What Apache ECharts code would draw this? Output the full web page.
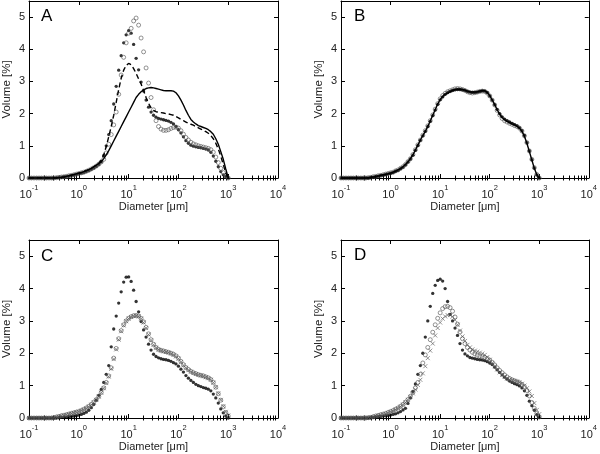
<!DOCTYPE html>
<html><head><meta charset="utf-8">
<script src="https://cdn.jsdelivr.net/npm/echarts@6/dist/echarts.min.js"></script>
<style>html,body{margin:0;padding:0;background:#fff}#c{width:600px;height:454px}</style>
</head><body><div id="c"></div>
<script>
// size classes (µm)
const diam = [
 0.1,0.112,0.126,0.142,0.159,0.178,0.2,0.224,0.252,0.283,
 0.317,0.356,0.399,0.448,0.502,0.564,0.632,0.71,0.796,0.893,
 1.002,1.125,1.262,1.416,1.589,1.783,2,2.244,2.518,2.825,
 3.17,3.557,3.991,4.477,5.024,5.637,6.325,7.096,7.962,8.934,
 10.024,11.247,12.619,14.159,15.887,17.825,20,22.44,25.179,28.251,
 31.698,35.566,39.905,44.774,50.238,56.368,63.246,70.963,79.621,89.337,
 100.237,112.468,126.191,141.589,158.866,178.25,200,224.404,251.785,282.508,
 316.979,355.656,399.052,447.744,502.377,563.677,632.456,709.627,796.214,893.367,
 1002.374];

const xDecades = [0.1, 1, 10, 100, 1000, 10000];
const xExponents = ['-1', '0', '1', '2', '3', '4'];
const yTicks = [0, 1, 2, 3, 4, 5];
const panelLetters = ['A', 'B', 'C', 'D'];

// Panel A
const A_solid = [
 0,0,0,0,0,0,0,0,0,0,
 0,0,0.01,0.02,0.03,0.05,0.07,0.09,0.11,0.13,
 0.15,0.17,0.2,0.23,0.26,0.3,0.35,0.4,0.45,0.5,
 0.6,0.72,0.85,1.0,1.15,1.3,1.45,1.6,1.75,1.9,
 2.05,2.2,2.35,2.5,2.6,2.68,2.74,2.78,2.8,2.81,
 2.8,2.78,2.76,2.74,2.72,2.71,2.71,2.71,2.7,2.65,
 2.55,2.42,2.27,2.1,1.95,1.82,1.74,1.68,1.63,1.6,
 1.57,1.54,1.5,1.44,1.36,1.22,1.05,0.82,0.58,0.28,
 0];
const A_dashed = [
 0,0,0,0,0,0,0,0,0,0,
 0,0,0.01,0.02,0.03,0.05,0.07,0.09,0.11,0.13,
 0.15,0.17,0.2,0.23,0.26,0.3,0.35,0.4,0.46,0.55,
 0.72,0.98,1.28,1.6,1.95,2.35,2.75,3.1,3.35,3.5,
 3.56,3.52,3.4,3.25,3.08,2.92,2.72,2.5,2.32,2.18,
 2.1,2.06,2.04,2.03,2.02,2.0,1.99,1.97,1.95,1.91,
 1.87,1.82,1.78,1.74,1.7,1.67,1.64,1.6,1.56,1.52,
 1.48,1.44,1.39,1.32,1.22,1.08,0.9,0.68,0.42,0.15,
 0];
const A_filled = [
 0,0,0,0,0,0,0,0,0,0,
 0,0.01,0.02,0.03,0.04,0.05,0.06,0.08,0.09,0.11,
 0.13,0.15,0.17,0.2,0.23,0.27,0.31,0.36,0.42,0.5,
 0.7,1.0,1.35,1.78,2.3,2.85,3.35,3.8,4.2,4.45,
 4.58,4.5,4.15,3.72,3.36,2.98,2.7,2.42,2.2,2.05,
 1.95,1.89,1.85,1.83,1.81,1.79,1.77,1.73,1.68,1.6,
 1.5,1.4,1.28,1.16,1.08,1.02,0.99,0.97,0.95,0.94,
 0.92,0.9,0.87,0.8,0.68,0.52,0.35,0.2,0.1,0.04,
 0];
const A_open = [
 0,0,0,0,0,0,0,0,0,0,
 0,0.01,0.02,0.03,0.04,0.05,0.07,0.08,0.1,0.12,
 0.14,0.16,0.18,0.21,0.24,0.28,0.32,0.37,0.43,0.5,
 0.58,0.78,1.05,1.35,1.65,2.05,2.6,3.2,3.75,4.2,
 4.5,4.65,4.88,4.97,4.75,4.35,3.92,3.42,2.95,2.5,
 2.12,1.78,1.6,1.52,1.48,1.48,1.5,1.54,1.57,1.58,
 1.55,1.47,1.36,1.26,1.18,1.11,1.06,1.03,1.0,0.98,
 0.96,0.94,0.92,0.88,0.8,0.65,0.48,0.3,0.17,0.07,
 0];

// Panel B
const B_solid = [
 0,0,0,0,0,0,0,0,0,0,
 0,0.01,0.02,0.03,0.05,0.06,0.08,0.1,0.11,0.13,
 0.15,0.18,0.21,0.25,0.29,0.35,0.42,0.5,0.6,0.72,
 0.87,1.02,1.18,1.32,1.45,1.6,1.77,1.95,2.12,2.3,
 2.44,2.53,2.6,2.64,2.68,2.72,2.75,2.76,2.76,2.75,
 2.73,2.7,2.68,2.67,2.67,2.68,2.7,2.72,2.71,2.66,
 2.56,2.43,2.28,2.12,1.98,1.88,1.81,1.76,1.72,1.68,
 1.65,1.61,1.55,1.45,1.3,1.08,0.82,0.56,0.3,0.1,
 0];
const B_open = [
 0,0,0,0,0,0,0,0,0,0,
 0,0.01,0.02,0.04,0.05,0.07,0.08,0.1,0.12,0.14,
 0.16,0.18,0.22,0.25,0.3,0.35,0.42,0.51,0.6,0.73,
 0.88,1.03,1.18,1.33,1.47,1.62,1.78,1.96,2.14,2.31,
 2.46,2.56,2.63,2.68,2.71,2.74,2.77,2.78,2.77,2.75,
 2.72,2.68,2.65,2.64,2.65,2.67,2.69,2.7,2.69,2.64,
 2.55,2.42,2.27,2.1,1.96,1.85,1.78,1.74,1.7,1.67,
 1.63,1.6,1.55,1.46,1.31,1.1,0.84,0.58,0.32,0.11,
 0];
const B_filled = [
 0,0,0,0,0,0,0,0,0,0,
 0,0,0.02,0.03,0.04,0.06,0.08,0.09,0.11,0.13,
 0.15,0.17,0.21,0.24,0.29,0.34,0.41,0.5,0.59,0.71,
 0.86,1.01,1.17,1.31,1.45,1.6,1.76,1.94,2.11,2.29,
 2.43,2.52,2.6,2.65,2.69,2.72,2.74,2.75,2.75,2.74,
 2.72,2.69,2.67,2.66,2.66,2.67,2.69,2.71,2.7,2.65,
 2.55,2.42,2.28,2.13,2.0,1.9,1.83,1.78,1.74,1.7,
 1.66,1.62,1.56,1.47,1.32,1.1,0.84,0.57,0.31,0.1,
 0];

// Panel C
const C_filled = [
 0,0,0,0,0,0,0,0,0,0,
 0,0,0.01,0.02,0.02,0.03,0.04,0.05,0.06,0.07,
 0.09,0.11,0.14,0.18,0.24,0.32,0.42,0.55,0.7,0.88,
 1.1,1.35,1.62,2.2,2.75,3.15,3.55,3.9,4.2,4.35,
 4.36,4.22,3.95,3.6,3.28,2.98,2.72,2.5,2.28,2.1,
 1.97,1.9,1.86,1.83,1.81,1.8,1.78,1.75,1.71,1.67,
 1.6,1.51,1.42,1.31,1.23,1.16,1.1,1.04,1.0,0.97,
 0.94,0.92,0.89,0.84,0.74,0.62,0.46,0.28,0.16,0.06,
 0];
const C_open = [
 0,0,0,0,0,0,0,0,0,0,
 0.01,0.03,0.05,0.07,0.08,0.1,0.12,0.14,0.16,0.18,
 0.2,0.23,0.27,0.31,0.36,0.42,0.49,0.57,0.67,0.79,
 0.93,1.1,1.3,1.55,1.85,2.15,2.45,2.7,2.88,3.0,
 3.08,3.13,3.16,3.17,3.15,3.08,2.97,2.8,2.6,2.42,
 2.28,2.18,2.12,2.09,2.07,2.05,2.03,2.0,1.97,1.92,
 1.85,1.75,1.65,1.56,1.5,1.44,1.4,1.37,1.34,1.32,
 1.3,1.27,1.24,1.19,1.1,0.95,0.75,0.55,0.35,0.17,
 0.06];
const C_cross = [
 0,0,0,0,0,0,0,0,0,0,
 0.01,0.02,0.04,0.06,0.08,0.1,0.12,0.14,0.16,0.18,
 0.2,0.23,0.26,0.3,0.35,0.41,0.48,0.56,0.66,0.78,
 0.92,1.08,1.28,1.52,1.82,2.12,2.42,2.68,2.86,2.99,
 3.07,3.12,3.15,3.16,3.14,3.07,2.95,2.78,2.58,2.4,
 2.26,2.17,2.11,2.08,2.06,2.04,2.02,1.99,1.95,1.9,
 1.83,1.73,1.63,1.55,1.48,1.43,1.39,1.36,1.33,1.31,
 1.29,1.26,1.23,1.18,1.09,0.95,0.76,0.56,0.36,0.19,
 0.08];

// Panel D
const D_filled = [
 0,0,0,0,0,0,0,0,0,0,
 0,0,0.01,0.02,0.03,0.04,0.05,0.06,0.07,0.08,
 0.09,0.11,0.13,0.16,0.2,0.25,0.3,0.45,0.62,0.82,
 1.05,1.35,1.62,2.0,2.5,3.0,3.45,3.85,4.1,4.25,
 4.29,4.23,4.0,3.6,3.2,3.0,2.78,2.55,2.3,2.1,
 1.98,1.92,1.87,1.85,1.83,1.81,1.8,1.79,1.77,1.74,
 1.7,1.65,1.57,1.49,1.41,1.33,1.26,1.2,1.14,1.1,
 1.06,1.03,0.99,0.93,0.84,0.7,0.52,0.38,0.24,0.1,
 0.02];
const D_open = [
 0,0,0,0,0,0,0,0,0,0,
 0,0.01,0.02,0.04,0.06,0.08,0.1,0.12,0.14,0.17,
 0.2,0.23,0.27,0.31,0.36,0.42,0.49,0.57,0.67,0.79,
 0.93,1.1,1.35,1.7,1.95,2.18,2.42,2.65,2.88,3.08,
 3.25,3.38,3.44,3.45,3.41,3.3,3.12,2.9,2.66,2.45,
 2.3,2.18,2.1,2.03,1.98,1.94,1.91,1.89,1.87,1.84,
 1.79,1.72,1.64,1.55,1.47,1.4,1.33,1.27,1.22,1.18,
 1.15,1.12,1.09,1.04,0.97,0.85,0.68,0.48,0.3,0.14,
 0.03];
const D_cross = [
 0,0,0,0,0,0,0,0,0,0,
 0,0.01,0.02,0.03,0.05,0.07,0.09,0.11,0.13,0.16,
 0.19,0.22,0.26,0.3,0.35,0.41,0.48,0.56,0.65,0.76,
 0.88,1.02,1.18,1.38,1.6,1.85,2.08,2.3,2.55,2.78,
 2.95,3.07,3.14,3.18,3.18,3.13,3.03,2.88,2.7,2.52,
 2.38,2.26,2.18,2.12,2.08,2.05,2.02,1.99,1.95,1.88,
 1.8,1.7,1.6,1.5,1.41,1.33,1.27,1.22,1.19,1.17,
 1.15,1.13,1.1,1.06,1.0,0.92,0.82,0.68,0.46,0.25,
 0.12];

const FONT = "'Liberation Sans', Arial, Helvetica, sans-serif";
const grids = [
  {left: 27, top: 1, width: 251, height: 177},
  {left: 341, top: 1, width: 249, height: 177},
  {left: 27, top: 240, width: 251, height: 178},
  {left: 341, top: 240, width: 250, height: 178}
];
const letterPos = [[41, 8], [354, 8], [41, 248], [354, 247]];

// minor tick positions (log10 space) 2..9 in each decade
const minorPos = [];
for (let k = -1; k < 4; k++) for (let m = 2; m <= 9; m++) minorPos.push(k + Math.log10(m));

const panelSeries = [
  [{kind: 'line', data: A_solid}, {kind: 'dash', data: A_dashed}, {kind: 'dot', data: A_filled}, {kind: 'circ', data: A_open}],
  [{kind: 'circ', data: B_open}, {kind: 'dot', data: B_filled}, {kind: 'line', data: B_solid}],
  [{kind: 'dot', data: C_filled}, {kind: 'circ', data: C_open}, {kind: 'cross', data: C_cross}],
  [{kind: 'dot', data: D_filled}, {kind: 'circ', data: D_open}, {kind: 'cross', data: D_cross}]
];

const axLine = {show: true, onZero: false, lineStyle: {color: '#000', width: 1}};
const xAxis = [], yAxis = [], series = [], graphic = [];
grids.forEach((g, p) => {
  const xi = xAxis.length;
  xAxis.push({
    gridIndex: p, type: 'log', logBase: 10, min: 0.1, max: 10000, position: 'bottom',
    axisLine: axLine, axisTick: {show: true, inside: true, length: 4, lineStyle: {color: '#000'}},
    splitLine: {show: false}, minorTick: {show: false},
    axisLabel: {
      margin: 6,
      formatter: v => {
        let i = xDecades.findIndex(d => Math.abs(Math.log10(d) - Math.log10(v)) < 1e-6);
        return i < 0 ? '' : '{b|10}{s|' + xExponents[i] + '}';
      },
      rich: {
        b: {fontSize: 11, fontFamily: FONT, color: '#222', lineHeight: 16, verticalAlign: 'bottom'},
        s: {fontSize: 7.5, fontFamily: FONT, color: '#222', lineHeight: 8, verticalAlign: 'top'}
      }
    },
    name: 'Diameter [μm]', nameLocation: 'middle', nameGap: 23,
    nameTextStyle: {fontSize: 11, fontFamily: FONT, color: '#222'}
  });
  xAxis.push({
    gridIndex: p, type: 'log', logBase: 10, min: 0.1, max: 10000, position: 'top',
    axisLine: axLine, axisTick: {show: true, inside: true, length: 4, lineStyle: {color: '#000'}},
    axisLabel: {show: false}, splitLine: {show: false}
  });
  ['bottom', 'top'].forEach(pos => xAxis.push({
    gridIndex: p, type: 'value', min: -1, max: 4, position: pos,
    axisLine: {show: false}, axisLabel: {show: false}, splitLine: {show: false},
    axisTick: {show: true, inside: true, length: 2.5, customValues: minorPos, lineStyle: {color: '#000'}}
  }));
  const yi = yAxis.length;
  yAxis.push({
    gridIndex: p, type: 'value', min: 0, max: 5.5, interval: 1, position: 'left',
    axisLine: axLine, axisTick: {show: true, inside: true, length: 4, lineStyle: {color: '#000'}},
    splitLine: {show: false},
    axisLabel: {margin: 4, fontSize: 11, fontFamily: FONT, color: '#222', showMaxLabel: false,
      formatter: v => yTicks.indexOf(v) >= 0 ? String(v) : ''},
    name: 'Volume [%]', nameLocation: 'middle', nameGap: 16,
    nameTextStyle: {fontSize: 11.5, fontFamily: FONT, color: '#222'}
  });
  yAxis.push({
    gridIndex: p, type: 'value', min: 0, max: 5.5, interval: 1, position: 'right',
    axisLine: axLine, axisTick: {show: true, inside: true, length: 4, lineStyle: {color: '#000'}},
    axisLabel: {show: false}, splitLine: {show: false}
  });
  panelSeries[p].forEach(s => {
    const data = diam.map((d, i) => [d, s.data[i]]);
    const base = {xAxisIndex: xi, yAxisIndex: yi, data: data, silent: true, animation: false};
    if (s.kind === 'line' || s.kind === 'dash') {
      series.push(Object.assign(base, {type: 'line', showSymbol: false, smooth: false,
        lineStyle: {color: '#000', width: 1.4, type: s.kind === 'dash' ? [5, 3] : 'solid'}}));
    } else if (s.kind === 'dot') {
      series.push(Object.assign(base, {type: 'scatter', symbol: 'circle', symbolSize: 3.3,
        itemStyle: {color: '#000'}}));
    } else if (s.kind === 'circ') {
      series.push(Object.assign(base, {type: 'scatter', symbol: 'circle', symbolSize: 4,
        itemStyle: {color: 'rgba(0,0,0,0)', borderColor: '#555', borderWidth: 0.8}}));
    } else {
      series.push(Object.assign(base, {type: 'scatter', symbol: 'path://M0,0L10,10M10,0L0,10', symbolSize: 4,
        itemStyle: {color: 'rgba(0,0,0,0)', borderColor: '#555', borderWidth: 0.8}}));
    }
  });
  graphic.push({type: 'text', left: letterPos[p][0], top: letterPos[p][1],
    style: {text: panelLetters[p], fontSize: 17, fontFamily: FONT, fill: '#000'}});
});

const chart = echarts.init(document.getElementById('c'), null, {renderer: 'canvas'});
chart.setOption({
  backgroundColor: '#fff',
  animation: false,
  grid: grids,
  xAxis: xAxis,
  yAxis: yAxis,
  series: series,
  graphic: graphic
});
</script>
</body></html>
